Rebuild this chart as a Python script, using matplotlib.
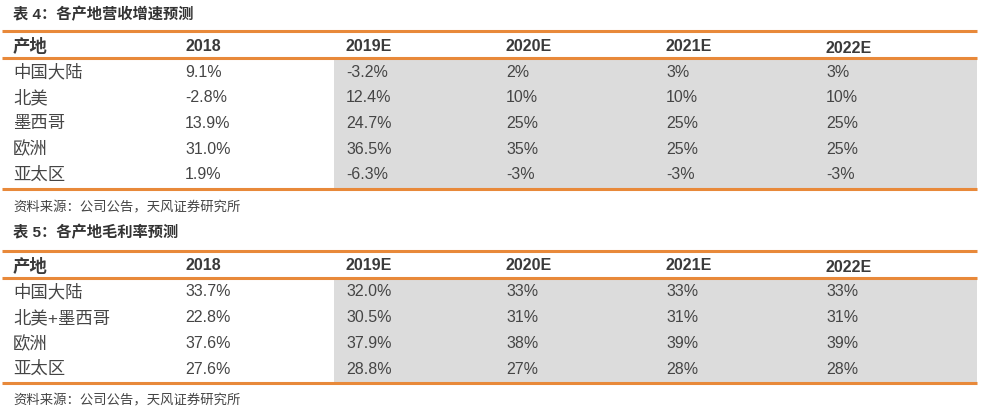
import matplotlib
matplotlib.use("Agg")
import matplotlib.pyplot as plt
from matplotlib.patches import Rectangle

plt.rcParams['font.family'] = ['Liberation Sans', 'Noto Sans CJK SC', 'DejaVu Sans']

# ---- data ----
columns = ["产地", "2018", "2019E", "2020E", "2021E", "2022E"]

t4_title = "表 4：各产地营收增速预测"
t4_regions = ["中国大陆", "北美", "墨西哥", "欧洲", "亚太区"]
t4_2018 = ["9.1%", "-2.8%", "13.9%", "31.0%", "1.9%"]
t4_2019E = ["-3.2%", "12.4%", "24.7%", "36.5%", "-6.3%"]
t4_2020E = ["2%", "10%", "25%", "35%", "-3%"]
t4_2021E = ["3%", "10%", "25%", "25%", "-3%"]
t4_2022E = ["3%", "10%", "25%", "25%", "-3%"]

t5_title = "表 5：各产地毛利率预测"
t5_regions = ["中国大陆", "北美+墨西哥", "欧洲", "亚太区"]
t5_2018 = ["33.7%", "22.8%", "37.6%", "27.6%"]
t5_2019E = ["32.0%", "30.5%", "37.9%", "28.8%"]
t5_2020E = ["33%", "31%", "38%", "27%"]
t5_2021E = ["33%", "31%", "39%", "28%"]
t5_2022E = ["33%", "31%", "39%", "28%"]

source = "资料来源：公司公告，天风证券研究所"

# ---- styling ----
W, H = 984, 417
ORANGE = "#E8893A"
GREY = "#DCDCDC"
TXT = "#454545"
col_x = [13, 185, 346, 506, 666, 826]
x_left, x_right = 2, 977
shade_x0 = 334
row_h = 25.7

fig = plt.figure(figsize=(W / 100, H / 100), dpi=100)
ax = fig.add_axes([0, 0, 1, 1])
ax.set_xlim(0, W)
ax.set_ylim(H, 0)
ax.axis("off")


def draw_table(title, title_y, line_top, line_mid, regions, cols, line_bottom, source_y):
    ax.text(13, title_y, title, fontsize=11, fontweight="bold", color="#333333", va="center", ha="left")
    n = len(regions)
    ax.add_patch(Rectangle((shade_x0, line_mid + 1), x_right - shade_x0, line_bottom - line_mid - 2,
                           facecolor=GREY, edgecolor="none", zorder=0))
    for y in (line_top, line_mid, line_bottom):
        ax.plot([x_left, x_right], [y, y], color=ORANGE, lw=2.2, solid_capstyle="butt", zorder=2)
    header_y = (line_top + line_mid) / 2 + 1.5
    for j, c in enumerate(columns):
        dy = 2 if c == "2022E" else 0
        fs = 12.5 if j == 0 else 11.5
        ax.text(col_x[j], header_y + dy, c, fontsize=fs, fontweight="bold", color="#3a3a3a",
                va="center", ha="left")
    for i in range(n):
        y = line_mid + 14 + i * row_h
        ax.text(col_x[0], y, regions[i], fontsize=12.5, color=TXT, va="center", ha="left")
        for j, vals in enumerate(cols):
            ax.text(col_x[j + 1], y, vals[i], fontsize=11.5, color=TXT, va="center", ha="left")
    ax.text(13, source_y, source, fontsize=9.6, color="#444444", va="center", ha="left")


draw_table(t4_title, 15, 31, 58, t4_regions,
           [t4_2018, t4_2019E, t4_2020E, t4_2021E, t4_2022E], 189, 208)
draw_table(t5_title, 233, 251, 278, t5_regions,
           [t5_2018, t5_2019E, t5_2020E, t5_2021E, t5_2022E], 383, 401)

fig.savefig("out.png", dpi=100, facecolor="white")
